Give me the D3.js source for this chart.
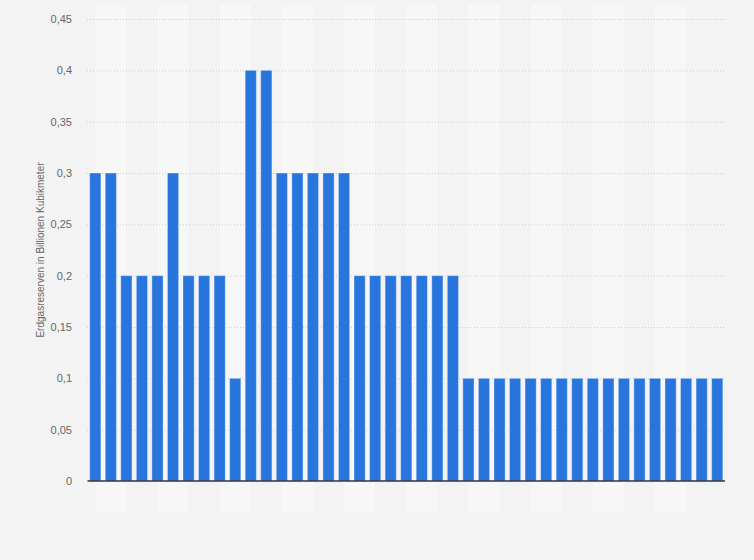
<!DOCTYPE html>
<html><head><meta charset="utf-8">
<script src="https://cdn.jsdelivr.net/npm/d3@7"></script>
<style>html,body{margin:0;padding:0;background:#f3f3f3;}svg{display:block;font-family:"Liberation Sans",Arial,sans-serif;}</style>
</head><body>
<script>
const categories = d3.range(1, 42).map(String);
const values = [0.3,0.3,0.2,0.2,0.2,0.3,0.2,0.2,0.2,0.1,0.4,0.4,0.3,0.3,0.3,0.3,0.3,0.2,0.2,0.2,0.2,0.2,0.2,0.2,
  0.1,0.1,0.1,0.1,0.1,0.1,0.1,0.1,0.1,0.1,0.1,0.1,0.1,0.1,0.1,0.1,0.1];
const yTicks = [0,0.05,0.1,0.15,0.2,0.25,0.3,0.35,0.4,0.45];
const yTitle = "Erdgasreserven in Billionen Kubikmeter";

const W = 754, H = 560;
const svg = d3.select("body").append("svg").attr("width", W).attr("height", H);
svg.append("rect").attr("width", W).attr("height", H).attr("fill", "#f3f3f3");

const x = d3.scaleBand().domain(categories).range([87.5, 725]).paddingInner(0.28).paddingOuter(0.14);
const y = d3.scaleLinear().domain([0, 0.45]).range([481, 19]);
const fmt = v => String(v).replace(".", ",");

// alternating stripes
const stripes = svg.append("g");
categories.forEach((c, i) => {
  const nxt = categories[i + 2];
  if (i % 4 === 0 && nxt) {
    const x0 = x(c) + x.bandwidth() / 2;
    const x1 = x(nxt) + x.bandwidth() / 2;
    stripes.append("rect").attr("x", x0).attr("y", 5).attr("width", x1 - x0).attr("height", 507).attr("fill", "#f7f7f7");
  }
});

// grid
const yAxis = d3.axisLeft(y).tickValues(yTicks).tickFormat(fmt).tickSize(0).tickPadding(15);
const ga = svg.append("g").attr("transform", "translate(87,0)").call(yAxis);
ga.select(".domain").remove();
ga.selectAll("text").attr("fill", "#666").attr("font-size", 11);
const grid = d3.axisLeft(y).tickValues(yTicks.slice(1)).tickFormat("").tickSize(-638);
const gg = svg.append("g").attr("transform", "translate(87,0)").call(grid);
gg.select(".domain").remove();
gg.selectAll("line").attr("stroke", "#cfcfcf").attr("stroke-dasharray", "1,2").attr("stroke-width", 1);

// bars
svg.append("g").selectAll("rect").data(values).join("rect")
  .attr("x", (d, i) => x(categories[i]))
  .attr("y", d => y(d))
  .attr("width", x.bandwidth())
  .attr("height", d => y(0) - y(d))
  .attr("fill", "#2876dd")
  .attr("stroke", "rgba(255,255,255,0.35)")
  .attr("stroke-width", 1);

// x axis line
const xAxis = d3.axisBottom(x).tickValues([]).tickSizeOuter(0);
const gx = svg.append("g").attr("transform", "translate(0,481)").call(xAxis);
gx.select(".domain").attr("stroke", "#333").attr("stroke-width", 1.5).attr("d", "M87.5,0H725");

// y title
svg.append("text").attr("transform", "translate(44,250) rotate(-90)")
  .attr("text-anchor", "middle").attr("fill", "#666").attr("font-size", 10).text(yTitle);
</script>
</body></html>
